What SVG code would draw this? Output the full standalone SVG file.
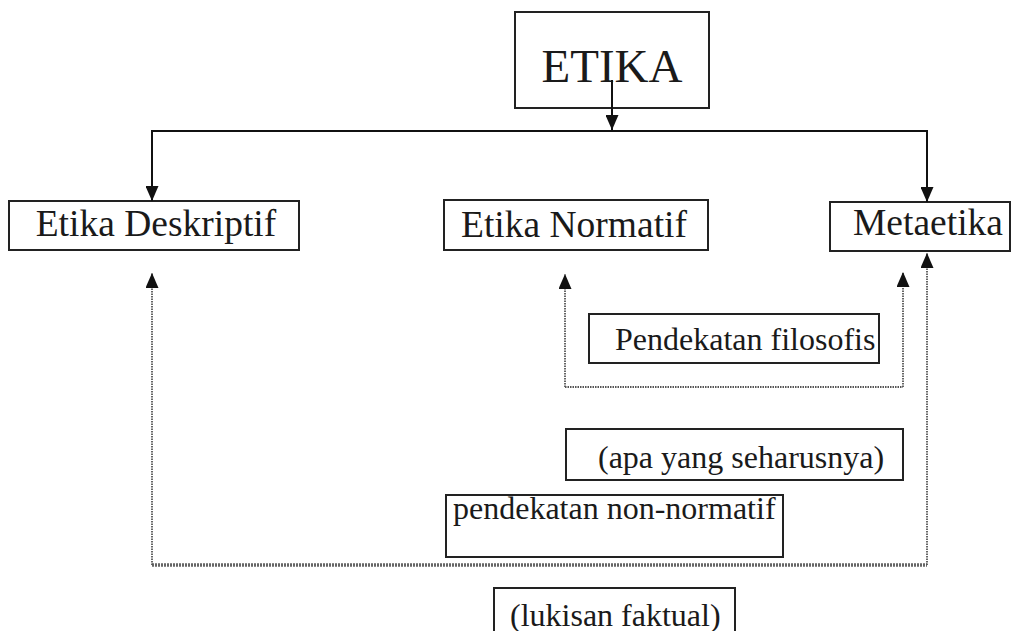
<svg xmlns="http://www.w3.org/2000/svg" width="1016" height="631" viewBox="0 0 1016 631">
<defs>
<marker id="ah" markerUnits="userSpaceOnUse" markerWidth="15" markerHeight="13" refX="15" refY="6.5" orient="auto">
<path d="M0,0 L15,6.5 L0,13 z" fill="#111"/>
</marker>
<style>
.box{fill:#fff;stroke:#222;stroke-width:2}
.t{font-family:"Liberation Serif","Times New Roman",serif;fill:#1a1a1a}
.big{font-size:37.5px}
.sm{font-size:32px}
.solid{fill:none;stroke:#111;stroke-width:2}
.dot{fill:none;stroke:#555;stroke-width:1.8;stroke-dasharray:1.5 1}
.dbl{fill:none;stroke:#666;stroke-width:3.5;stroke-dasharray:2 1}
</style>
</defs>
<rect width="1016" height="631" fill="#fff"/>
<g id="etika">
<rect class="box" x="515" y="12" width="194" height="96"/>
<text class="t" x="612" y="82" font-size="47" text-anchor="middle">ETIKA</text>
</g>
<g id="deskriptif">
<rect class="box" x="9" y="201" width="290" height="49"/>
<text class="t big" x="156" y="236" text-anchor="middle">Etika Deskriptif</text>
</g>
<g id="normatif">
<rect class="box" x="444" y="200" width="264" height="50"/>
<text class="t big" x="574" y="237" text-anchor="middle">Etika Normatif</text>
</g>
<g id="metaetika">
<rect class="box" x="830" y="202" width="180" height="49"/>
<text class="t big" x="928" y="235" text-anchor="middle">Metaetika</text>
</g>
<g id="filosofis">
<rect class="box" x="589" y="314" width="290" height="49"/>
<text class="t sm" x="615" y="350">Pendekatan filosofis</text>
</g>
<g id="seharusnya">
<rect class="box" x="566" y="429" width="337" height="51"/>
<text class="t sm" x="598" y="468">(apa yang seharusnya)</text>
</g>
<g id="nonnormatif">
<rect class="box" x="446" y="495" width="337" height="62"/>
<text class="t sm" x="453" y="519">pendekatan non-normatif</text>
</g>
<g id="faktual">
<rect class="box" x="494" y="588" width="241" height="60"/>
<text class="t sm" x="510" y="626">(lukisan faktual)</text>
</g>
<g id="connectors">
<line class="solid" x1="612" y1="80" x2="612" y2="130" marker-end="url(#ah)"/>
<line class="solid" x1="152" y1="131" x2="927" y2="131"/>
<line class="solid" x1="152" y1="130" x2="152" y2="201" marker-end="url(#ah)"/>
<line class="solid" x1="927" y1="130" x2="927" y2="202" marker-end="url(#ah)"/>
<polyline class="dot" points="565,387 903,387"/>
<line class="dot" x1="565" y1="387" x2="565" y2="274" marker-end="url(#ah)"/>
<line class="dot" x1="903" y1="387" x2="903" y2="272" marker-end="url(#ah)"/>
<line class="dbl" x1="152" y1="565" x2="927" y2="565"/>
<line class="dot" x1="152" y1="565" x2="152" y2="273" marker-end="url(#ah)"/>
<line class="dot" x1="927" y1="565" x2="927" y2="253" marker-end="url(#ah)"/>
</g>
</svg>
